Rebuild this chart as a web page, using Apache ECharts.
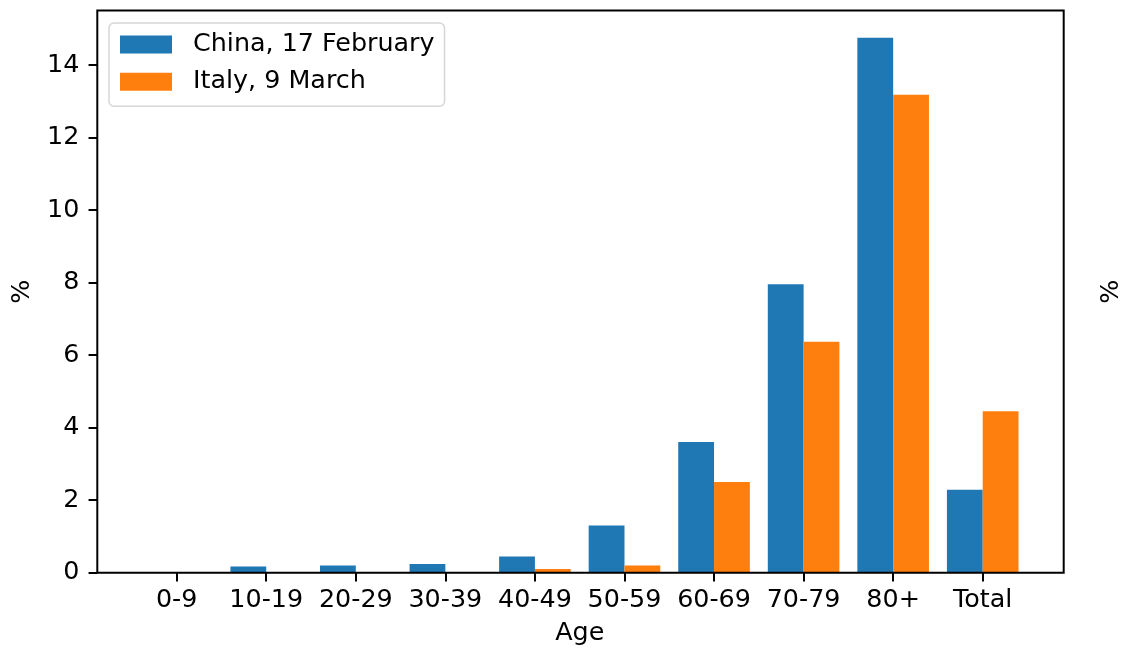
<!DOCTYPE html>
<html>
<head>
<meta charset="utf-8">
<script src="https://cdn.jsdelivr.net/npm/echarts@6/dist/echarts.min.js"></script>
<style>html,body{margin:0;padding:0;background:#fff}#c{width:1123px;height:651px}</style>
</head>
<body>
<div id="c"></div>
<script>
const categories = ['0-9','10-19','20-29','30-39','40-49','50-59','60-69','70-79','80+','Total'];
const china = [0, 0.17, 0.2, 0.24, 0.45, 1.3, 3.6, 7.95, 14.75, 2.29];
const italy = [0, 0, 0, 0, 0.1, 0.2, 2.5, 6.37, 13.18, 4.45];
const yTicks = [0, 2, 4, 6, 8, 10, 12, 14];
const seriesNames = ['China, 17 February', 'Italy, 9 March'];

const FONT = 'DejaVu Sans';
const FS = 25.4;
const chart = echarts.init(document.getElementById('c'), null, {renderer: 'canvas'});
chart.setOption({
  animation: false,
  textStyle: {fontFamily: FONT},
  grid: [
    {left: 97.3, top: 10.5, width: 966.4, height: 562.2, show: true, borderColor: '#000', borderWidth: 2, backgroundColor: 'transparent', z: 10, containLabel: false, outerBoundsMode: 'none'},
    {left: 131.9, top: 10.5, width: 895.6, height: 562.2, containLabel: false, outerBoundsMode: 'none'}
  ],
  legend: {
    left: 109, top: 23, orient: 'vertical',
    itemWidth: 52, itemHeight: 18, itemGap: 12.3,
    padding: [9, 10, 12, 11],
    backgroundColor: 'rgba(255,255,255,0.8)',
    borderColor: '#d6d6d6', borderWidth: 1.5, borderRadius: 5,
    icon: 'rect',
    textStyle: {fontFamily: FONT, fontSize: FS, color: '#000', lineHeight: 25, padding: [0, 0, 0, 16]},
    data: seriesNames
  },
  xAxis: [
    {gridIndex: 0, type: 'value', min: 0, max: 1, show: false},
    {gridIndex: 1, type: 'category', data: categories,
     name: 'Age', nameLocation: 'middle', nameGap: 48,
     nameTextStyle: {fontFamily: FONT, fontSize: FS, color: '#000'},
     axisLine: {show: false},
     axisTick: {show: true, alignWithLabel: true, length: 8.75, lineStyle: {color: '#000', width: 2}},
     axisLabel: {fontFamily: FONT, fontSize: FS, color: '#000', margin: 15, interval: 0},
     splitLine: {show: false}}
  ],
  yAxis: [
    {gridIndex: 0, type: 'value', min: 0, max: 1, position: 'right',
     name: '%', nameLocation: 'middle', nameGap: 35, nameRotate: 90,
     nameTextStyle: {fontFamily: FONT, fontSize: FS, color: '#000'},
     axisLine: {show: false}, axisTick: {show: false}, axisLabel: {show: false}, splitLine: {show: false}},
    {gridIndex: 1, type: 'value', min: 0, max: 15.5, interval: 2, offset: 34.6,
     name: '%', nameLocation: 'middle', nameGap: 62, nameRotate: 90,
     nameTextStyle: {fontFamily: FONT, fontSize: FS, color: '#000'},
     axisLine: {show: false},
     axisTick: {show: true, length: 8.75, customValues: yTicks, lineStyle: {color: '#000', width: 2}},
     axisLabel: {fontFamily: FONT, fontSize: FS, color: '#000', margin: 18, customValues: yTicks},
     splitLine: {show: false}}
  ],
  series: [
    {name: seriesNames[0], type: 'bar', xAxisIndex: 1, yAxisIndex: 1, data: china, barWidth: 35.8, barGap: '0%', itemStyle: {color: '#1f77b4'}},
    {name: seriesNames[1], type: 'bar', xAxisIndex: 1, yAxisIndex: 1, data: italy, barWidth: 35.8, barGap: '0%', itemStyle: {color: '#ff7f0e'}}
  ]
});
</script>
</body>
</html>
